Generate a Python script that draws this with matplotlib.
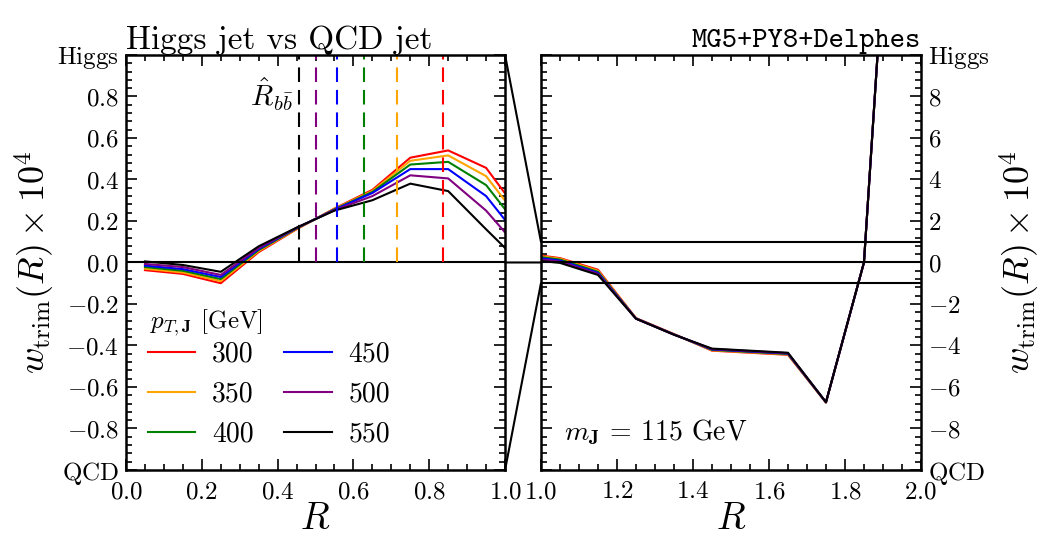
import matplotlib
matplotlib.use("Agg")
import matplotlib.pyplot as plt
from matplotlib.patches import ConnectionPatch
from matplotlib.ticker import MultipleLocator

plt.rcParams['mathtext.fontset'] = 'cm'
plt.rcParams['font.family'] = 'serif'
plt.rcParams['font.serif'] = ['cmr10', 'DejaVu Serif']
plt.rcParams['axes.unicode_minus'] = False

# data: w_trim(R) x 10^4 for each jet pT
R = [0.05, 0.15, 0.25, 0.35, 0.45, 0.55, 0.65, 0.75, 0.85, 0.95,
     1.05, 1.15, 1.25, 1.35, 1.45, 1.55, 1.65, 1.75, 1.85, 1.95]
pt_labels = ['300', '350', '400', '450', '500', '550']
colors = ['#ff0000', '#ffa500', '#008000', '#0000ff', '#800080', '#000000']
w300 = [-0.037, -0.055, -0.10, 0.050, 0.160, 0.260, 0.350, 0.505, 0.540, 0.456,
        0.21, -0.35, -2.68, -3.45, -4.25, -4.35, -4.45, -6.75, 0.0, 28.0]
w350 = [-0.030, -0.048, -0.09, 0.055, 0.162, 0.258, 0.345, 0.490, 0.516, 0.416,
        0.18, -0.40, -2.69, -3.46, -4.23, -4.33, -4.43, -6.75, 0.0, 28.0]
w400 = [-0.022, -0.040, -0.08, 0.060, 0.164, 0.256, 0.340, 0.472, 0.485, 0.373,
        0.14, -0.45, -2.70, -3.47, -4.21, -4.31, -4.41, -6.74, 0.0, 28.0]
w450 = [-0.015, -0.032, -0.07, 0.065, 0.166, 0.254, 0.335, 0.450, 0.450, 0.320,
        0.09, -0.50, -2.70, -3.47, -4.19, -4.29, -4.39, -6.74, 0.0, 28.0]
w500 = [-0.007, -0.022, -0.06, 0.070, 0.167, 0.252, 0.320, 0.420, 0.405, 0.250,
        0.04, -0.55, -2.71, -3.48, -4.17, -4.27, -4.37, -6.73, 0.0, 28.0]
w550 = [0.005, -0.012, -0.045, 0.078, 0.168, 0.250, 0.300, 0.380, 0.344, 0.160,
        -0.02, -0.60, -2.71, -3.48, -4.15, -4.25, -4.35, -6.73, 0.0, 28.0]
series = [w300, w350, w400, w450, w500, w550]
R_bb = [0.835, 0.716, 0.627, 0.557, 0.501, 0.456]

left_ticks = [-1.0, -0.8, -0.6, -0.4, -0.2, 0.0, 0.2, 0.4, 0.6, 0.8, 1.0]
left_labels = ['QCD', '-0.8', '-0.6', '-0.4', '-0.2', '0.0', '0.2', '0.4', '0.6', '0.8', 'Higgs']
right_ticks = [-10, -8, -6, -4, -2, 0, 2, 4, 6, 8, 10]
right_labels = ['QCD', '-8', '-6', '-4', '-2', '0', '2', '4', '6', '8', 'Higgs']
x_left = [0.0, 0.2, 0.4, 0.6, 0.8, 1.0]
x_right = [1.0, 1.2, 1.4, 1.6, 1.8, 2.0]


def mt(s):
    if s in ('Higgs', 'QCD'):
        return r'$\mathrm{' + s + '}$'
    return '$' + s + '$'


fig = plt.figure(figsize=(10.5, 5.52), dpi=100)
ax1 = fig.add_axes([0.12, 0.1486, 0.361, 0.7518])
ax2 = fig.add_axes([0.5152, 0.1486, 0.3619, 0.7518])

for ax in (ax1, ax2):
    for sp in ax.spines.values():
        sp.set_linewidth(1.8)
    ax.tick_params(which='both', direction='in', top=True, right=True, left=True,
                   bottom=True, width=1.2, labelsize=18, pad=5)
    ax.tick_params(axis='x', which='major', pad=8)
    ax.tick_params(which='major', length=8)
    ax.tick_params(which='minor', length=4)
    for lab, w, c in zip(pt_labels, series, colors):
        ax.plot(R, w, color=c, lw=1.5, label=lab)
    ax.set_xlabel('$R$', fontsize=27, labelpad=0)

# left panel
ax1.set_xlim(0, 1)
ax1.set_ylim(-1, 1)
ax1.set_xticks(x_left)
ax1.set_xticklabels([mt('%.1f' % v) for v in x_left])
ax1.set_yticks(left_ticks)
ax1.set_yticklabels([mt(s) for s in left_labels])
ax1.xaxis.set_minor_locator(MultipleLocator(0.05))
ax1.yaxis.set_minor_locator(MultipleLocator(0.04))
ax1.axhline(0, color='k', lw=1.5)
for rb, c in zip(R_bb, colors):
    ax1.plot([rb, rb], [0, 1], color=c, lw=1.5, dashes=(7, 3.8))
ax1.text(0.443, 0.81, r'$\hat{R}_{b\bar{b}}$', fontsize=21, ha='right', va='center')
ax1.set_ylabel(r'$w_{\rm trim}(R)\times 10^4$', fontsize=26, labelpad=0)
ax1.set_title('Higgs jet vs QCD jet', loc='left', fontsize=24, pad=4)
ax1.legend(ncol=2, loc='lower left', bbox_to_anchor=(0.0, 0.0),
           fontsize=20, frameon=False, handlelength=1.7, handletextpad=0.6,
           columnspacing=1.1, labelspacing=0.5, borderaxespad=0.4)
ax1.text(0.063, 0.355, r'$p_{T,\mathbf{J}}$ [GeV]', transform=ax1.transAxes,
         fontsize=18, ha='left', va='center')

# right panel
ax2.set_xlim(1, 2)
ax2.set_ylim(-10, 10)
ax2.set_xticks(x_right)
ax2.set_xticklabels([mt('%.1f' % v) for v in x_right])
ax2.set_yticks(right_ticks)
ax2.set_yticklabels([mt(s) for s in right_labels])
ax2.xaxis.set_minor_locator(MultipleLocator(0.05))
ax2.yaxis.set_minor_locator(MultipleLocator(0.4))
ax2.tick_params(labelleft=False, labelright=True)
for yv in (-1, 0, 1):
    ax2.axhline(yv, color='k', lw=1.5)
ax2.text(0.06, 0.09, r'$m_{\mathbf{J}}$ = 115 GeV', transform=ax2.transAxes,
         fontsize=20, ha='left', va='center')
ax2.yaxis.set_label_position('right')
ax2.set_ylabel(r'$w_{\rm trim}(R)\times 10^4$', fontsize=26, labelpad=6)
ax2.set_title('MG5+PY8+Delphes', loc='right', fontsize=21, pad=6, family='cmtt10')

# zoom connectors between panels
for ya, yb in ((1.0, 1.0), (-1.0, -1.0), (0.0, 0.0)):
    con = ConnectionPatch(xyA=(1.0, ya), coordsA=ax1.transData,
                          xyB=(1.0, yb), coordsB=ax2.transData,
                          color='k', lw=1.5)
    fig.add_artist(con)

fig.savefig('out.png', dpi=100)
